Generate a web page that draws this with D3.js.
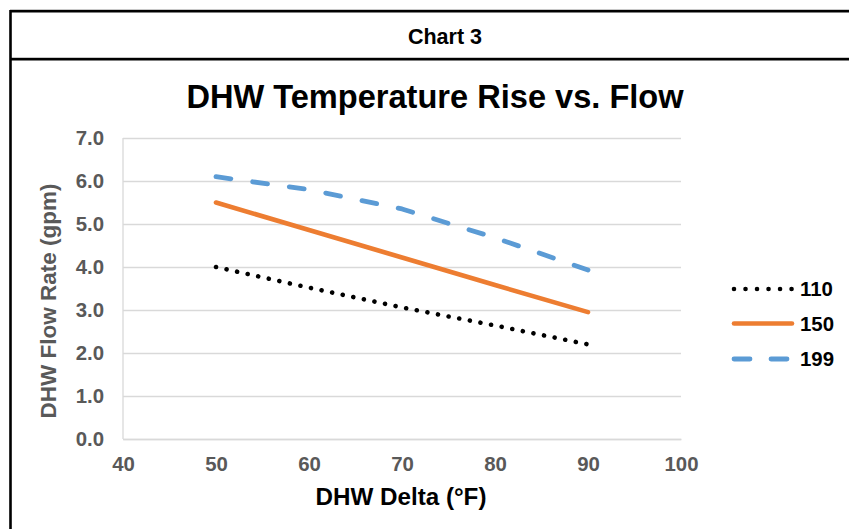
<!DOCTYPE html>
<html>
<head>
<meta charset="utf-8">
<script src="https://cdn.jsdelivr.net/npm/d3@7/dist/d3.min.js"></script>
<style>
  html, body { margin: 0; padding: 0; background: #fff; }
  svg { display: block; font-family: "Liberation Sans", Arial, sans-serif; }
</style>
</head>
<body>
<svg id="chart" width="849" height="529"></svg>
<script>
const headerText = "Chart 3";
const titleText = "DHW Temperature Rise vs. Flow";
const xTitle = "DHW Delta (°F)";
const yTitle = "DHW Flow Rate (gpm)";
const xTicks = [40, 50, 60, 70, 80, 90, 100];
const yTicks = [0, 1, 2, 3, 4, 5, 6, 7];
const xValues = [50, 60, 70, 80, 90];
const seriesNames = ["110", "150", "199"];
const values110 = [4.0, 3.52, 3.06, 2.64, 2.2];
const values150 = [5.5, 4.86, 4.22, 3.58, 2.95];
const values199 = [6.1, 5.8, 5.35, 4.68, 3.93];

const series = [
  { name: seriesNames[0], values: values110, color: "#000000", width: 4.6, dash: "0.01,10.8" },
  { name: seriesNames[1], values: values150, color: "#ED7D31", width: 4.6, dash: null },
  { name: seriesNames[2], values: values199, color: "#5B9BD5", width: 4.8, dash: "15,22" }
];

const svg = d3.select("#chart");

// frame
svg.append("line").attr("x1", 10).attr("x2", 849).attr("y1", 9.5).attr("y2", 9.5)
  .attr("stroke", "#c8c8c8").attr("stroke-width", 1);
svg.append("line").attr("x1", 10).attr("x2", 849).attr("y1", 57.5).attr("y2", 57.5)
  .attr("stroke", "#c8c8c8").attr("stroke-width", 1);
svg.append("path")
  .attr("d", "M10.5,529 L10.5,11.2 L849,11.2")
  .attr("fill", "none").attr("stroke", "#000").attr("stroke-width", 2.6);
svg.append("line").attr("x1", 10).attr("x2", 849).attr("y1", 59.2).attr("y2", 59.2)
  .attr("stroke", "#000").attr("stroke-width", 2.6);

svg.append("text").attr("x", 445).attr("y", 37).attr("text-anchor", "middle")
  .attr("dominant-baseline", "central").attr("font-weight", "bold")
  .attr("font-size", 21.5).attr("fill", "#000").text(headerText);

svg.append("text").attr("x", 435).attr("y", 96).attr("text-anchor", "middle")
  .attr("dominant-baseline", "central").attr("font-weight", "bold")
  .attr("font-size", 32.6).attr("fill", "#000").text(titleText);

const x = d3.scaleLinear().domain([40, 100]).range([123, 681]);
const y = d3.scaleLinear().domain([0, 7]).range([439, 138]);
const plotW = 681 - 123;

// y axis with gridlines
const gy = svg.append("g").attr("transform", "translate(123,0)")
  .call(d3.axisLeft(y).tickValues(yTicks).tickFormat(d3.format(".1f"))
    .tickSizeInner(-plotW).tickSizeOuter(0).tickPadding(19));
gy.select(".domain").remove();
gy.selectAll(".tick line").attr("stroke", "#d9d9d9").attr("stroke-width", 1.3);
gy.selectAll(".tick text").attr("font-size", 20.4).attr("font-weight", "bold")
  .attr("fill", "#595959").attr("font-family", "Liberation Sans, Arial, sans-serif");

// left axis line
svg.append("line").attr("x1", 123).attr("x2", 123).attr("y1", y(7)).attr("y2", y(0))
  .attr("stroke", "#d9d9d9").attr("stroke-width", 1.3);

// x axis
const gx = svg.append("g").attr("transform", "translate(0,439)")
  .call(d3.axisBottom(x).tickValues(xTicks).tickFormat(d3.format("d"))
    .tickSize(0).tickPadding(18));
gx.select(".domain").attr("stroke", "#d9d9d9").attr("stroke-width", 1.3);
gx.selectAll(".tick text").attr("font-size", 20.4).attr("font-weight", "bold")
  .attr("fill", "#595959").attr("font-family", "Liberation Sans, Arial, sans-serif");

// axis titles
svg.append("text").attr("x", 401).attr("y", 496).attr("text-anchor", "middle")
  .attr("dominant-baseline", "central").attr("font-weight", "bold")
  .attr("font-size", 24.2).attr("fill", "#000").text(xTitle);
svg.append("text").attr("transform", "translate(48,301) rotate(-90)")
  .attr("text-anchor", "middle").attr("dominant-baseline", "central")
  .attr("font-weight", "bold").attr("font-size", 22.5).attr("fill", "#595959").text(yTitle);

// lines
const line = d3.line().x((d, i) => x(xValues[i])).y(d => y(d));
series.forEach(s => {
  const p = svg.append("path").datum(s.values)
    .attr("d", line).attr("fill", "none")
    .attr("stroke", s.color).attr("stroke-width", s.width)
    .attr("stroke-linecap", "round").attr("stroke-linejoin", "round");
  if (s.dash) p.attr("stroke-dasharray", s.dash);
});

// legend
const legendY = [289, 323.5, 359];
series.forEach((s, i) => {
  const l = svg.append("line").attr("x1", 734).attr("x2", 792)
    .attr("y1", legendY[i]).attr("y2", legendY[i])
    .attr("stroke", s.color).attr("stroke-width", s.width).attr("stroke-linecap", "round");
  if (s.dash) l.attr("stroke-dasharray", i === 0 ? "0.01,11.5" : "16,21");
  svg.append("text").attr("x", 800).attr("y", legendY[i])
    .attr("dominant-baseline", "central").attr("font-weight", "bold")
    .attr("font-size", 20.4).attr("fill", "#000").text(s.name);
});
</script>
</body>
</html>
